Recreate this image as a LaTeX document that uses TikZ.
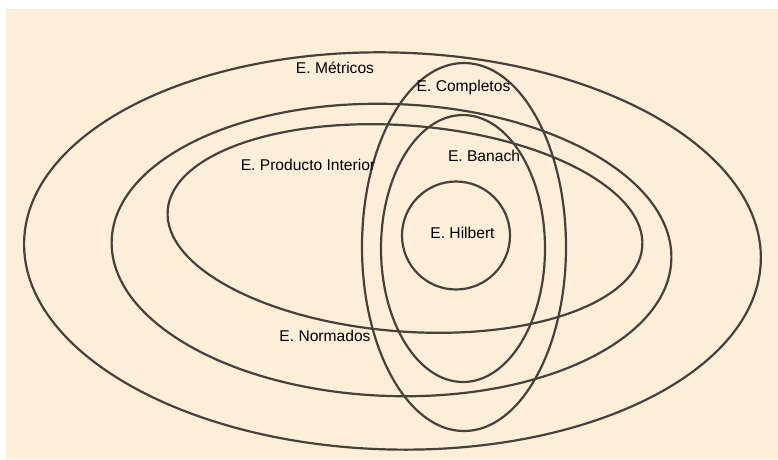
\documentclass[tikz,border=0pt]{standalone}
\usepackage{fontspec}
\setmainfont{Liberation Sans}
\definecolor{bgc}{HTML}{FFEED8}
\definecolor{linec}{HTML}{45413B}
\begin{document}
\begin{tikzpicture}[x=1pt,y=-1pt,
  setline/.style={draw=linec,line width=2.2pt},
  lbl/.style={inner sep=0pt,font=\fontsize{15.6pt}{18pt}\selectfont,text=black}]
\useasboundingbox (0,0) rectangle (778,459);
\fill[bgc] (6,9) rectangle (778,459);
% sets
\coordinate (cmet) at (392.5,251);
\coordinate (cnor) at (391.5,250);
\coordinate (cpi) at (405,228.5);
\coordinate (ccomp) at (464,247);
\coordinate (cban) at (463,248.5);
\coordinate (chil) at (456,235.5);
\draw[setline, rotate around={-1.5:(cmet)}] (cmet) ellipse [x radius=368.5pt, y radius=198.5pt];
\draw[setline, rotate around={-2:(cnor)}] (cnor) ellipse [x radius=280pt, y radius=146pt];
\draw[setline, rotate around={-4.4:(cpi)}] (cpi) ellipse [x radius=238pt, y radius=103pt];
\draw[setline] (ccomp) ellipse [x radius=102pt, y radius=184pt];
\draw[setline] (cban) ellipse [x radius=82pt, y radius=133.5pt];
\draw[setline] (chil) circle [radius=54pt];
% labels
\node[lbl] (met) at (335,68) {E. Métricos};
\node[lbl] (comp) at (463.5,87) {E. Completos};
\node[lbl] (pi) at (308,165) {E. Producto Interior};
\node[lbl] (ban) at (484,156) {E. Banach};
\node[lbl] (hil) at (462.5,233) {E. Hilbert};
\node[lbl] (nor) at (325,336) {E. Normados};
\end{tikzpicture}
\end{document}
